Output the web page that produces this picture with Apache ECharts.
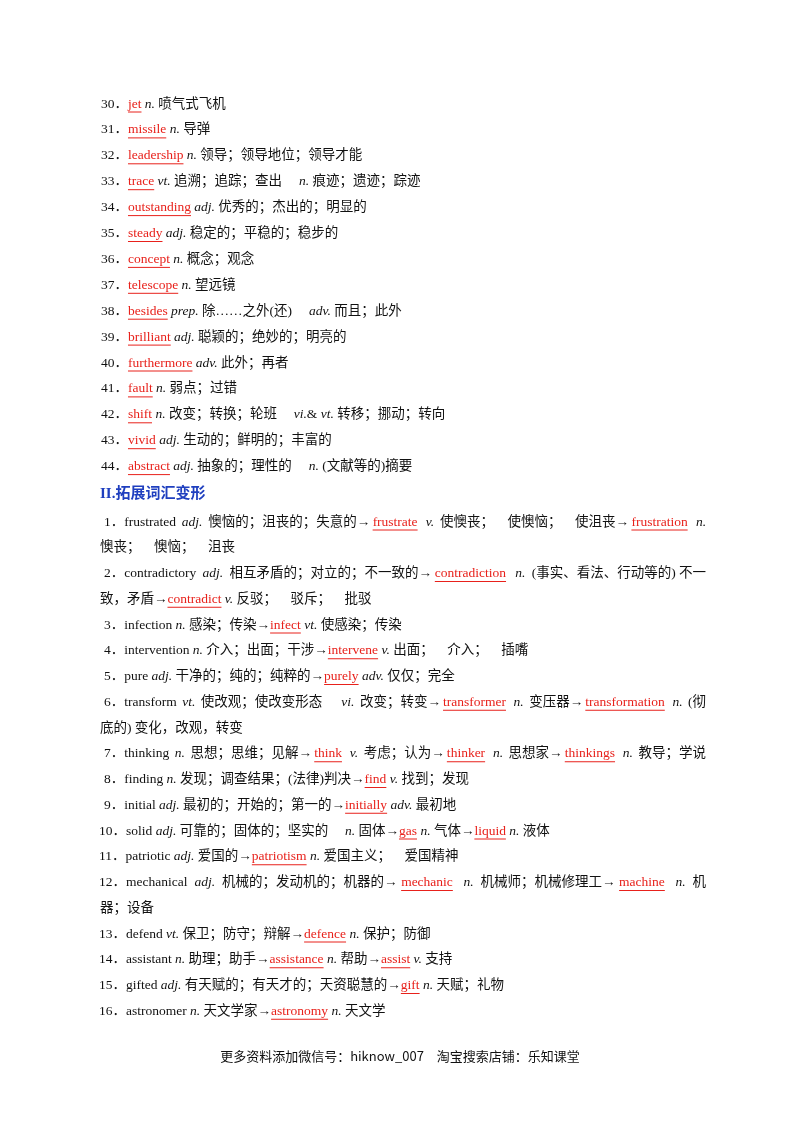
<!DOCTYPE html>
<html><head><meta charset="utf-8">
<script src="https://cdn.jsdelivr.net/npm/echarts@6/dist/echarts.min.js"></script>
<style>html,body{margin:0;padding:0;background:#fff}#c{width:800px;height:1132px}</style>
</head><body><div id="c"></div>
<script>
// [word] = red underlined answer, _x_ = italic part of speech
var wordLines = [
  '30．[jet] _n._ 喷气式飞机',
  '31．[missile] _n._ 导弹',
  '32．[leadership] _n._ 领导；领导地位；领导才能',
  '33．[trace] _vt._ 追溯；追踪；查出　 _n._ 痕迹；遗迹；踪迹',
  '34．[outstanding] _adj._ 优秀的；杰出的；明显的',
  '35．[steady] _adj._ 稳定的；平稳的；稳步的',
  '36．[concept] _n._ 概念；观念',
  '37．[telescope] _n._ 望远镜',
  '38．[besides] _prep._ 除……之外(还)　 _adv._ 而且；此外',
  '39．[brilliant] _adj._ 聪颖的；绝妙的；明亮的',
  '40．[furthermore] _adv._ 此外；再者',
  '41．[fault] _n._ 弱点；过错',
  '42．[shift] _n._ 改变；转换；轮班　 _vi._& _vt._ 转移；挪动；转向',
  '43．[vivid] _adj._ 生动的；鲜明的；丰富的',
  '44．[abstract] _adj._ 抽象的；理性的　 _n._ (文献等的)摘要'
];
var heading = 'II.拓展词汇变形';
// second number: 1 = first line of an item (indented), 0 = continuation; third: justify
var formLines = [
  ['1．frustrated _adj._ 懊恼的；沮丧的；失意的→[frustrate] _v._ 使懊丧；　使懊恼；　使沮丧→[frustration] _n._', 1, 1],
  ['懊丧；　懊恼；　沮丧', 0, 0],
  ['2．contradictory _adj._ 相互矛盾的；对立的；不一致的→[contradiction] _n._ (事实、看法、行动等的) 不一', 1, 1],
  ['致，矛盾→[contradict] _v._ 反驳；　驳斥；　批驳', 0, 0],
  ['3．infection _n._ 感染；传染→[infect] _vt._ 使感染；传染', 1, 0],
  ['4．intervention _n._ 介入；出面；干涉→[intervene] _v._ 出面；　介入；　插嘴', 1, 0],
  ['5．pure _adj._ 干净的；纯的；纯粹的→[purely] _adv._ 仅仅；完全', 1, 0],
  ['6．transform _vt._ 使改观；使改变形态　 _vi._ 改变；转变→[transformer] _n._ 变压器→[transformation] _n._ (彻', 1, 1],
  ['底的) 变化，改观，转变', 0, 0],
  ['7．thinking _n._ 思想；思维；见解→[think] _v._ 考虑；认为→[thinker] _n._ 思想家→[thinkings] _n._ 教导；学说', 1, 1],
  ['8．finding _n._ 发现；调查结果；(法律)判决→[find] _v._ 找到；发现', 1, 0],
  ['9．initial _adj._ 最初的；开始的；第一的→[initially] _adv._ 最初地', 1, 0],
  ['10．solid _adj._ 可靠的；固体的；坚实的　 _n._ 固体→[gas] _n._ 气体→[liquid] _n._ 液体', 1, 0],
  ['11．patriotic _adj._ 爱国的→[patriotism] _n._ 爱国主义；　爱国精神', 1, 0],
  ['12．mechanical _adj._ 机械的；发动机的；机器的→[mechanic] _n._ 机械师；机械修理工→[machine] _n._ 机', 1, 1],
  ['器；设备', 0, 0],
  ['13．defend _vt._ 保卫；防守；辩解→[defence] _n._ 保护；防御', 1, 0],
  ['14．assistant _n._ 助理；助手→[assistance] _n._ 帮助→[assist] _v._ 支持', 1, 0],
  ['15．gifted _adj._ 有天赋的；有天才的；天资聪慧的→[gift] _n._ 天赋；礼物', 1, 0],
  ['16．astronomer _n._ 天文学家→[astronomy] _n._ 天文学', 1, 0]
];
var footer = '更多资料添加微信号：hiknow_007　淘宝搜索店铺：乐知课堂';

var FS = 13.5, LATIN = 'Liberation Serif', CJK = 'Noto Sans CJK SC';
var ctx = document.createElement('canvas').getContext('2d');
function fontOf(s) {
  return (s.italic ? 'italic ' : '') + FS + 'px "' + LATIN + '","' + CJK + '"';
}
function parse(str) {
  var out = [], re = /\[([^\]]+)\]|_([^_]+)_|([^\[_]+)/g, m;
  while ((m = re.exec(str))) {
    if (m[1]) out.push({ t: m[1], red: true });
    else if (m[2]) out.push({ t: m[2], italic: true });
    else out.push({ t: m[3] });
  }
  return out;
}
var els = [];
function addLine(str, x, y, justifyTo) {
  var segs = parse(str), w = 0;
  segs.forEach(function (s) { ctx.font = fontOf(s); s.w = ctx.measureText(s.t).width; w += s.w; });
  var gap = 0;
  if (justifyTo && segs.length > 1) gap = Math.max(0, (justifyTo - x - w) / (segs.length - 1));
  segs.forEach(function (s) {
    els.push({ type: 'text', x: x, y: y, style: { text: s.t, font: fontOf(s), fill: s.red ? '#e8211b' : '#111', textVerticalAlign: 'middle' } });
    if (s.red) els.push({ type: 'line', shape: { x1: x, y1: y + 8, x2: x + s.w, y2: y + 8 }, style: { stroke: '#e8211b', lineWidth: 1 } });
    x += s.w + gap;
  });
}
wordLines.forEach(function (l, i) { addLine(l, 101, 104 + i * 25.9, 0); });
els.push({ type: 'text', x: 100, y: 494, style: { text: heading, font: 'bold 15px "' + LATIN + '","' + CJK + '"', fill: '#1f3fbf', textVerticalAlign: 'middle' } });
formLines.forEach(function (l, i) {
  addLine(l[0], l[1] ? (l[0].indexOf('．') > 1 ? 99 : 104) : 100, 522 + i * 25.75, l[2] ? 706 : 0);
});
els.push({ type: 'text', x: 400, y: 1056, style: { text: footer, font: '13px "' + CJK + '"', fill: '#111', textAlign: 'center', textVerticalAlign: 'middle' } });

var chart = echarts.init(document.getElementById('c'));
chart.setOption({ animation: false, graphic: { elements: els } });
</script></body></html>
